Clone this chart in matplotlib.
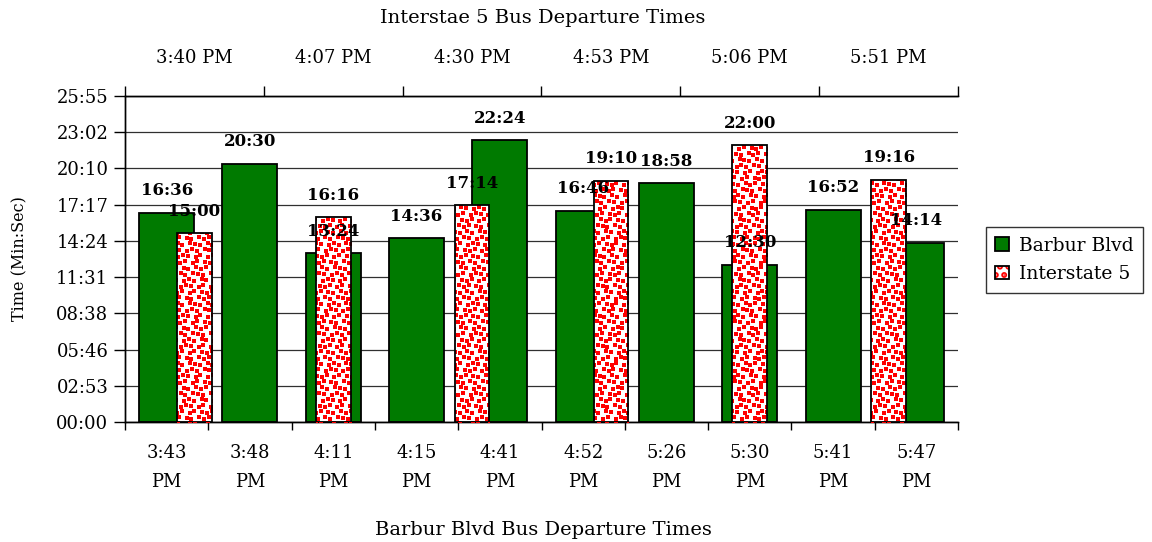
import numpy as np
import matplotlib
matplotlib.use("Agg")
import matplotlib.pyplot as plt
from matplotlib.patches import Patch
from matplotlib.legend_handler import HandlerTuple
from matplotlib.ticker import FuncFormatter

plt.rcParams['font.family'] = ['DejaVu Serif']
plt.rcParams['hatch.linewidth'] = 3.0

barbur_times = ["3:43\nPM", "3:48\nPM", "4:11\nPM", "4:15\nPM", "4:41\nPM",
                "4:52\nPM", "5:26\nPM", "5:30\nPM", "5:41\nPM", "5:47\nPM"]
barbur_vals = ["16:36", "20:30", "13:24", "14:36", "22:24",
               "16:46", "18:58", "12:30", "16:52", "14:14"]
i5_times = ["3:40 PM", "4:07 PM", "4:30 PM", "4:53 PM", "5:06 PM", "5:51 PM"]
i5_vals = ["15:00", "16:16", "17:14", "19:10", "22:00", "19:16"]


def to_sec(s):
    m, sec = s.split(":")
    return int(m) * 60 + int(sec)


b_sec = np.array([to_sec(v) for v in barbur_vals])
i_sec = np.array([to_sec(v) for v in i5_vals])

W, H = 1152, 542
fig = plt.figure(figsize=(W / 100, H / 100), dpi=100)
ax = fig.add_axes([125 / W, 1 - 422 / H, (958 - 125) / W, (422 - 96) / H])
ax2 = ax.twiny()

xb = np.arange(len(barbur_vals))
xi = np.arange(len(i5_vals))

step = 172.8
ax.set_ylim(0, step * 9)
ax.set_xlim(-0.5, len(xb) - 0.5)
ax2.set_xlim(-0.5, len(xi) - 0.5)

ax.bar(xb, b_sec, width=0.66, color='#007A00', edgecolor='black', linewidth=1.3, zorder=2)
red_bars = ax2.bar(xi, i_sec, width=0.25, color='white', linewidth=0, zorder=2)
ax2.bar(xi, i_sec, width=0.25, fill=False, edgecolor='black', linewidth=1.3, zorder=4)

# red speckle texture inside each Interstate 5 bar (deterministic, clipped to bar)
px_x = len(xi) / (958 - 125)          # data units per pixel (x, ax2)
px_y = (step * 9) / (422 - 96)        # data units per pixel (y)
sp = 6.0
for k, rect in enumerate(red_bars):
    x0, w, h = rect.get_x(), rect.get_width(), rect.get_height()
    nx = int(w / px_x / sp) + 3
    ny = int(h / px_y / sp) + 3
    xs, ys = [], []
    for r in range(ny):
        for c in range(nx):
            jx = ((r * 7 + c * 13 + k * 5) % 5) - 2
            jy = ((r * 11 + c * 3 + k) % 5) - 2
            off = (r % 2) * sp / 2
            xs.append(x0 + (c * sp + off - sp + jx * 0.6) * px_x)
            ys.append((r * sp - 2 + jy * 0.6) * px_y)
    sc = ax2.scatter(xs, ys, marker='s', s=7.5, color='#FF0000', linewidths=0, zorder=3)
    sc.set_clip_path(rect)

ax.set_yticks(np.arange(10) * step)
ax.yaxis.set_major_formatter(FuncFormatter(
    lambda v, p: "%02d:%02d" % divmod(int(round(v)), 60)))
ax.grid(axis='y', color='#303030', linewidth=0.9)
ax.set_axisbelow(True)

ax.set_xticks(np.arange(-0.5, len(xb), 1))
ax.set_xticklabels([])
ax.set_xticks(xb, minor=True)
ax.set_xticklabels(barbur_times, minor=True, linespacing=1.75)
ax.tick_params(axis='x', which='major', length=6, width=1, direction='out')
ax.tick_params(axis='x', which='minor', length=0, pad=16, labelsize=13)
ax.tick_params(axis='y', length=8, width=1, direction='out', labelsize=13, pad=4)

ax2.set_xticks(np.arange(-0.5, len(xi), 1))
ax2.set_xticklabels([])
ax2.set_xticks(xi, minor=True)
ax2.set_xticklabels(i5_times, minor=True)
ax2.tick_params(axis='x', which='major', length=7, width=1, direction='out')
ax2.tick_params(axis='x', which='minor', length=0, pad=21, labelsize=13)
ax2.set_ylim(0, step * 9)

for a in (ax, ax2):
    a.spines['right'].set_visible(False)
    for s in ('left', 'top', 'bottom'):
        a.spines[s].set_linewidth(1)

# data labels (all on ax2 so they sit above every bar)
for x, v, s in zip(xb, b_sec, barbur_vals):
    ax2.annotate(s, xy=(x, v), xycoords=ax.transData, xytext=(0, 16),
                 textcoords='offset points', ha='center', va='center',
                 fontsize=12, fontweight='bold', zorder=6)
for x, v, s in zip(xi, i_sec, i5_vals):
    ax2.annotate(s, xy=(x, v), xycoords=ax2.transData, xytext=(0, 16),
                 textcoords='offset points', ha='center', va='center',
                 fontsize=12, fontweight='bold', zorder=6)

ax.set_ylabel("Time (Min:Sec)", fontsize=11.5, labelpad=20)
fig.text(543 / W, 1 - 18 / H, "Interstae 5 Bus Departure Times",
         ha='center', va='center', fontsize=14)
fig.text(543 / W, 1 - 530 / H, "Barbur Blvd Bus Departure Times",
         ha='center', va='center', fontsize=14)

h1 = Patch(facecolor='#007A00', edgecolor='black', linewidth=1.3)
h2a = Patch(facecolor='white', edgecolor='#FF0000', hatch='..', linewidth=0)
h2b = Patch(fill=False, edgecolor='black', linewidth=1.3)
leg = fig.legend([h1, (h2a, h2b)], ["Barbur Blvd", "Interstate 5"],
                 handler_map={tuple: HandlerTuple(ndivide=1)},
                 loc='center left', bbox_to_anchor=(986 / W, 1 - 260 / H),
                 fontsize=13.5, frameon=True, fancybox=False, edgecolor='black',
                 handlelength=0.75, handleheight=0.75, handletextpad=0.5,
                 borderpad=0.5, labelspacing=0.55, borderaxespad=0)
leg.get_frame().set_linewidth(1)

fig.savefig("out.png", dpi=100)
